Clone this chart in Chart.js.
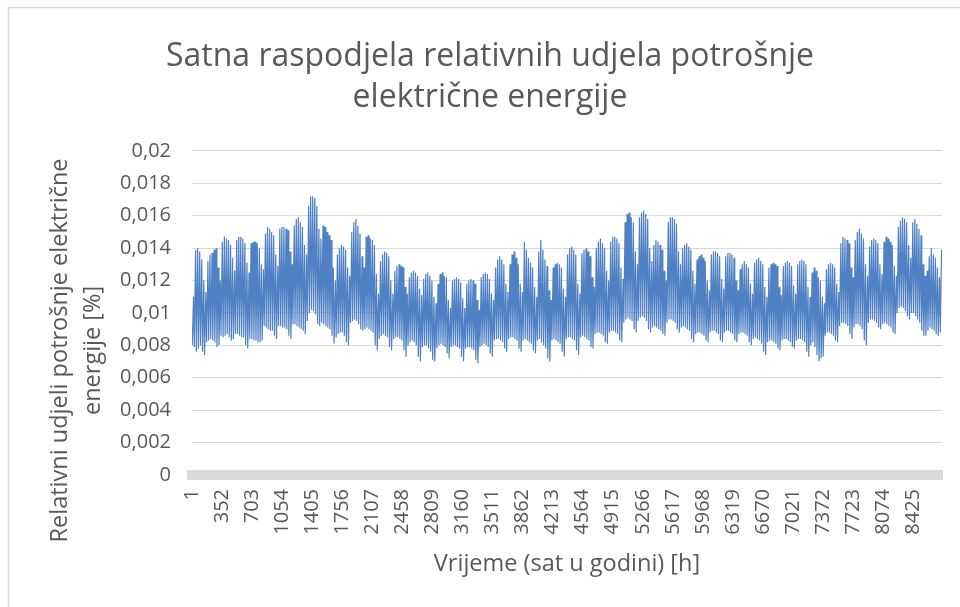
<!DOCTYPE html>
<html>
<head>
<meta charset="utf-8">
<script src="https://cdn.jsdelivr.net/npm/chart.js@4/dist/chart.umd.min.js"></script>
<style>
  html, body { margin: 0; padding: 0; background: #fff; }
  canvas { display: block; }
</style>
</head>
<body>
<canvas id="canvas" width="960" height="607"></canvas>
<script>
// tick labels on the hour axis (Excel shows every 351st category)
const xTickLabels = [1, 352, 703, 1054, 1405, 1756, 2107, 2458, 2809, 3160, 3511, 3862, 4213,
  4564, 4915, 5266, 5617, 5968, 6319, 6670, 7021, 7372, 7723, 8074, 8425];

const yTitleLines = ['Relativni udjeli potrošnje električne', 'energije [%]'];

// hour of the day where the night minimum and the evening peak sit
const lowHour = 4;
const peakHour = 19;

// daily peak share (x 0.001), one row per week
const dailyPeak = [
  11.0, 13.9, 14.0, 13.8, 13.3, 12.0, 11.3,
  13.2, 13.6, 13.7, 13.9, 14.0, 12.8, 12.0,
  14.4, 14.7, 14.6, 14.5, 14.2, 13.4, 12.6,
  14.5, 14.7, 14.7, 14.6, 14.3, 13.1, 12.5,
  14.3, 14.4, 14.4, 14.3, 14.0, 13.0, 12.7,
  14.9, 15.3, 15.2, 15.0, 14.8, 13.6, 12.9,
  15.2, 15.3, 15.3, 15.2, 15.1, 13.8, 13.0,
  15.4, 15.8, 15.9, 15.6, 15.3, 14.2, 13.6,
  16.6, 17.2, 17.2, 17.1, 16.6, 15.2, 14.6,
  15.4, 15.3, 15.0, 14.8, 14.5, 12.8, 12.0,
  13.6, 14.0, 14.2, 14.1, 13.9, 12.8, 12.3,
  15.0, 15.6, 15.8, 15.4, 14.9, 13.5, 12.8,
  14.7, 14.8, 14.6, 14.5, 14.2, 12.4, 11.2,
  13.2, 13.6, 13.8, 13.7, 13.5, 12.0, 11.2,
  12.6, 12.9, 13.0, 12.9, 12.8, 11.6, 11.2,
  12.2, 12.5, 12.6, 12.5, 12.3, 11.5, 11.1,
  12.1, 12.4, 12.5, 12.3, 12.0, 11.0, 10.6,
  11.8, 12.4, 12.5, 12.3, 12.2, 10.8, 10.3,
  12.0, 12.1, 12.2, 12.1, 11.9, 10.9, 10.3,
  11.8, 12.0, 12.1, 12.0, 11.8, 10.8, 10.2,
  12.2, 12.4, 12.5, 12.4, 12.1, 11.2, 10.8,
  12.8, 13.3, 13.5, 13.3, 13.0, 11.8, 11.3,
  13.0, 13.6, 13.8, 13.4, 13.0, 11.8, 11.3,
  14.4, 13.9, 13.4, 13.1, 12.8, 11.6, 11.0,
  13.8, 14.5, 13.9, 13.3, 12.9, 11.4, 10.8,
  12.8, 13.0, 13.1, 13.0, 12.8, 11.5, 11.0,
  13.6, 14.0, 14.1, 13.9, 13.6, 11.8, 11.2,
  13.7, 13.9, 14.0, 13.8, 13.5, 12.2, 11.6,
  14.0, 14.4, 14.6, 14.3, 14.0, 12.6, 12.0,
  14.4, 14.7, 14.7, 14.6, 14.3, 12.8, 12.1,
  15.6, 16.1, 16.2, 15.9, 15.6, 13.8, 13.0,
  15.9, 16.2, 16.3, 16.1, 15.8, 14.0, 13.2,
  14.2, 14.5, 14.4, 14.2, 13.9, 12.6, 12.0,
  15.6, 15.9, 15.9, 15.8, 15.5, 13.8, 13.0,
  14.0, 14.2, 14.3, 14.1, 13.9, 12.6, 11.8,
  13.3, 13.5, 13.6, 13.4, 13.2, 12.0, 11.4,
  13.6, 13.8, 13.8, 13.7, 13.5, 12.1, 11.5,
  13.5, 13.7, 13.7, 13.6, 13.4, 12.0, 11.4,
  12.7, 13.0, 13.2, 13.0, 12.8, 11.8, 11.2,
  13.1, 13.3, 13.4, 13.2, 13.0, 11.6, 11.0,
  12.8, 13.0, 13.1, 13.0, 12.9, 11.6, 11.1,
  12.9, 13.1, 13.2, 13.1, 12.9, 11.7, 11.2,
  13.0, 13.2, 13.3, 13.2, 13.0, 11.6, 11.0,
  12.5, 12.8, 12.6, 12.2, 12.0, 11.0, 10.6,
  12.7, 13.0, 13.1, 13.0, 12.8, 11.8, 11.3,
  14.3, 14.7, 14.6, 14.5, 14.3, 12.8, 12.2,
  14.5, 15.0, 15.2, 14.9, 14.6, 13.0, 12.3,
  14.1, 14.5, 14.6, 14.5, 14.3, 13.0, 12.4,
  14.4, 14.7, 14.6, 14.4, 14.2, 12.9, 12.3,
  15.3, 15.7, 15.9, 15.8, 15.6, 14.2, 13.4,
  15.6, 15.8, 15.5, 15.2, 14.8, 13.0, 12.3,
  12.6, 13.5, 14.0, 13.6, 13.4, 12.8, 12.2,
  13.9
];

// daily night minimum share (x 0.001)
const dailyLow = [
  8.0, 7.9, 7.6, 7.8, 8.0, 7.6, 7.4,
  8.2, 8.3, 8.4, 8.3, 8.2, 7.9, 8.0,
  8.6, 8.5, 8.6, 8.7, 8.5, 8.3, 8.4,
  8.7, 8.7, 8.6, 8.5, 8.5, 8.0, 7.8,
  8.4, 8.4, 8.3, 8.3, 8.2, 8.2, 8.3,
  9.2, 9.1, 9.0, 8.9, 8.9, 8.6, 8.4,
  9.2, 9.2, 9.1, 9.1, 9.0, 8.6, 8.4,
  9.3, 9.3, 9.2, 9.1, 9.0, 8.9, 8.7,
  9.5, 10.0, 10.2, 10.1, 9.9, 9.3, 9.2,
  9.4, 9.3, 9.2, 9.1, 9.0, 8.6, 8.1,
  8.5, 8.7, 8.8, 8.8, 8.6, 8.2, 8.0,
  9.4, 9.5, 9.6, 9.5, 9.3, 9.0, 8.9,
  9.0, 9.1, 9.0, 8.9, 8.8, 8.0, 7.7,
  8.4, 8.6, 8.7, 8.6, 8.5, 7.9, 7.7,
  8.4, 8.5, 8.5, 8.4, 8.3, 7.7, 7.3,
  8.0, 8.2, 8.3, 8.2, 8.0, 7.3, 7.0,
  7.9, 8.0, 8.0, 7.8, 7.6, 7.1, 7.0,
  7.8, 8.0, 8.1, 8.0, 7.9, 7.5, 7.2,
  7.9, 8.0, 8.0, 7.9, 7.8, 7.3, 7.0,
  7.8, 7.9, 7.9, 7.8, 7.7, 7.1, 6.9,
  7.9, 8.0, 8.1, 8.0, 7.9, 7.5, 7.3,
  8.3, 8.4, 8.4, 8.3, 8.2, 7.8, 7.6,
  8.4, 8.5, 8.5, 8.4, 8.3, 7.8, 7.6,
  8.3, 8.4, 8.3, 8.2, 8.1, 7.7, 7.5,
  8.3, 8.4, 8.2, 8.0, 7.8, 7.2, 7.0,
  8.3, 8.4, 8.3, 8.2, 8.1, 7.6, 7.3,
  8.4, 8.5, 8.5, 8.4, 8.3, 7.7, 7.4,
  8.5, 8.6, 8.5, 8.4, 8.3, 7.9, 7.8,
  8.7, 8.8, 8.8, 8.7, 8.6, 8.2, 8.1,
  8.8, 8.9, 8.9, 8.8, 8.7, 8.3, 8.2,
  9.4, 9.6, 9.7, 9.6, 9.5, 9.0, 8.8,
  9.5, 9.7, 9.8, 9.7, 9.5, 9.0, 8.8,
  9.1, 9.2, 9.1, 9.0, 8.9, 8.7, 8.6,
  9.4, 9.6, 9.6, 9.5, 9.4, 9.0, 8.8,
  9.1, 9.2, 9.1, 9.0, 8.9, 8.4, 8.2,
  8.7, 8.8, 8.8, 8.7, 8.6, 8.3, 8.2,
  8.8, 8.9, 8.9, 8.8, 8.7, 8.3, 8.2,
  8.8, 8.9, 8.9, 8.8, 8.7, 8.3, 8.2,
  8.7, 8.8, 8.8, 8.7, 8.6, 8.2, 8.0,
  8.4, 8.5, 8.4, 8.3, 8.1, 7.6, 7.4,
  8.2, 8.3, 8.3, 8.2, 8.1, 7.8, 7.7,
  8.3, 8.4, 8.4, 8.3, 8.2, 7.9, 7.8,
  8.3, 8.4, 8.4, 8.3, 8.2, 7.6, 7.3,
  8.0, 8.2, 7.9, 7.4, 7.0, 7.2, 7.3,
  8.6, 8.8, 8.8, 8.7, 8.6, 8.3, 8.2,
  9.2, 9.4, 9.4, 9.3, 9.2, 8.7, 8.4,
  9.1, 9.3, 9.3, 9.2, 9.0, 8.3, 8.0,
  9.4, 9.6, 9.6, 9.5, 9.4, 9.1, 9.0,
  9.3, 9.4, 9.3, 9.2, 9.1, 8.8, 8.7,
  10.0, 10.3, 10.4, 10.3, 10.1, 9.8, 9.6,
  10.0, 10.0, 9.8, 9.6, 9.4, 8.9, 8.6,
  8.6, 8.9, 9.1, 9.0, 8.9, 8.7, 8.6,
  8.8
];

const textGrey = '#595959';
const fontFamily = "'Open Sans', 'Liberation Sans', sans-serif";

// night low and evening peak of every day, on the hour axis
const points = [];
dailyPeak.forEach((peak, day) => {
    points.push({ x: day * 24 + lowHour, y: dailyLow[day] / 1000 });
    points.push({ x: day * 24 + peakHour, y: peak / 1000 });
});

// light frame round the chart, as in the Excel export
const chartFrame = {
    id: 'chartFrame',
    beforeDraw(chart) {
        const ctx = chart.ctx;
        ctx.save();
        ctx.fillStyle = '#ffffff';
        ctx.fillRect(0, 0, chart.width, chart.height);
        ctx.strokeStyle = '#d9d9d9';
        ctx.lineWidth = 1.5;
        ctx.strokeRect(8.5, 7.5, chart.width + 20, chart.height + 20);
        ctx.restore();
    }
};

// Excel centres the y title over plot + tick labels, so draw it by hand
const yAxisTitle = {
    id: 'yAxisTitle',
    afterDraw(chart) {
        const { ctx, chartArea, scales } = chart;
        const centerY = (chartArea.top + scales.x.bottom - 57) / 2;
        ctx.save();
        ctx.translate(scales.y.left + 22, centerY);
        ctx.rotate(-Math.PI / 2);
        ctx.font = `23.5px ${fontFamily}`;
        ctx.fillStyle = textGrey;
        ctx.textAlign = 'center';
        ctx.textBaseline = 'middle';
        yTitleLines.forEach((line, i) => ctx.fillText(line, 0, i * 33));
        ctx.restore();
    }
};

new Chart(document.querySelector('#canvas'), {
    type: 'line',
    plugins: [chartFrame, yAxisTitle],
    data: {
        datasets: [{
            label: 'Relativni udjeli',
            data: points,
            borderColor: '#4f81c4',
            borderWidth: 1.2,
            pointRadius: 0,
            tension: 0,
            fill: false
        }]
    },
    options: {
        responsive: false,
        animation: false,
        layout: { padding: { left: 38, right: 18, top: 0, bottom: 0 } },
        plugins: {
            legend: { display: false },
            tooltip: { enabled: false },
            title: {
                display: true,
                text: ['Satna raspodjela relativnih udjela potrošnje', 'električne energije'],
                color: textGrey,
                font: { family: fontFamily, size: 32, weight: '400', lineHeight: 1.28 },
                padding: { top: 36, bottom: 33 }
            }
        },
        scales: {
            x: {
                type: 'linear',
                min: 1,
                max: 8760,
                afterBuildTicks: (scale) => {
                    scale.ticks = xTickLabels.map(v => ({ value: v }));
                },
                afterFit: (scale) => { scale.height = 132; },
                grid: { display: false, drawTicks: false },
                border: { display: true, color: '#d9d9d9', width: 10 },
                ticks: {
                    autoSkip: false,
                    maxRotation: 90,
                    minRotation: 90,
                    padding: 14,
                    color: textGrey,
                    font: { family: fontFamily, size: 20 },
                    callback: (value) => String(value)
                },
                title: {
                    display: true,
                    text: 'Vrijeme (sat u godini) [h]',
                    color: textGrey,
                    font: { family: fontFamily, size: 23.5, lineHeight: 1.3 },
                    padding: { top: 0, bottom: 27 }
                }
            },
            y: {
                min: 0,
                max: 0.02,
                afterFit: (scale) => { scale.width = 154; },
                grid: { color: '#d9d9d9', lineWidth: 1, drawTicks: false },
                border: { display: false },
                ticks: {
                    stepSize: 0.002,
                    padding: 21,
                    color: textGrey,
                    font: { family: fontFamily, size: 20 },
                    callback: (value) => Number(value.toFixed(3)).toString().replace('.', ',')
                },
                title: { display: false }
            }
        }
    }
});
</script>
</body>
</html>
